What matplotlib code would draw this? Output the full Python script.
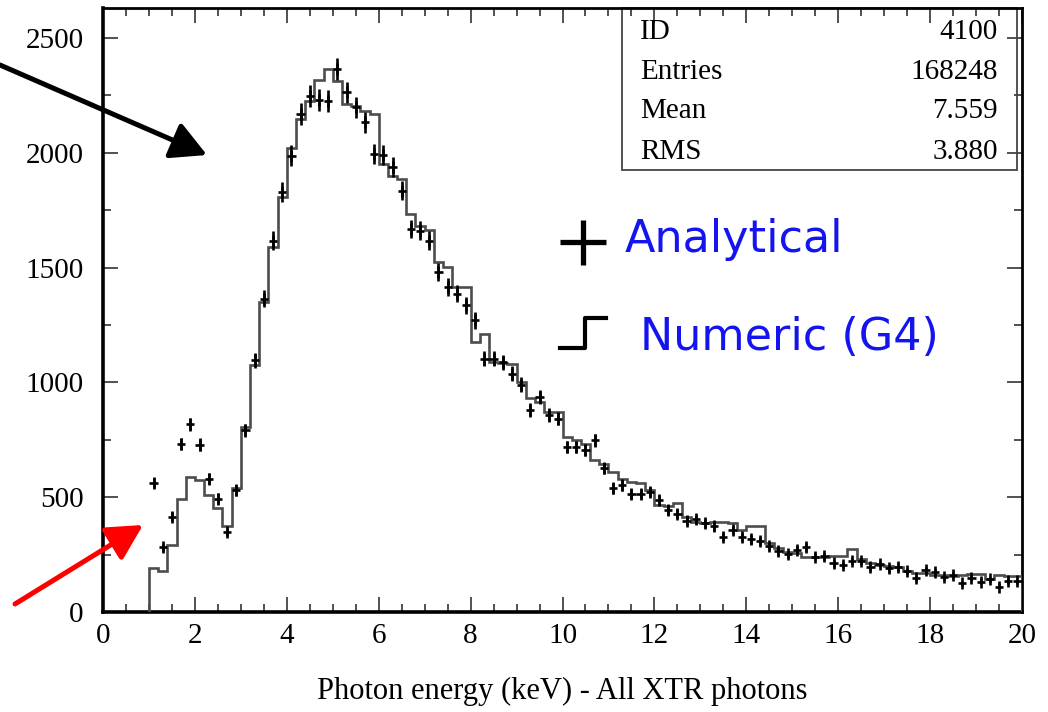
import numpy as np
import matplotlib
matplotlib.use('Agg')
import matplotlib.pyplot as plt
from matplotlib.ticker import MultipleLocator
from matplotlib.patches import Rectangle

# ---------------- data ----------------
bin_low = np.round(np.arange(1.0, 20.0, 0.2), 1)   # 0.2 keV bins from 1 to 20 keV
bin_width = 0.2

numeric_g4 = [
    190, 180, 294, 491, 588,
    574, 509, 454, 374, 542,
    806, 1074, 1349, 1588, 1806,
    2020, 2147, 2226, 2316, 2364,
    2310, 2212, 2204, 2183, 2168,
    1950, 1900, 1886, 1733, 1680,
    1665, 1523, 1504, 1417, 1417,
    1175, 1212, 1088, 1086, 1081,
    1000, 930, 915, 871, 871,
    760, 751, 733, 663, 645,
    610, 579, 567, 562, 530,
    465, 461, 473, 414, 393,
    386, 393, 393, 386, 357,
    375, 375, 299, 277, 262,
    255, 238, 238, 241, 243,
    243, 274, 233, 212, 204,
    200, 197, 180, 168, 168,
    161, 160, 157, 161, 164,
    164, 145, 163, 157, 157,
]

analytical = [
    562, 281, 415, 731, 818,
    729, 581, 494, 349, 530,
    791, 1096, 1364, 1617, 1828,
    1987, 2168, 2248, 2229, 2226,
    2364, 2262, 2197, 2132, 1994,
    1990, 1936, 1835, 1668, 1661,
    1617, 1480, 1415, 1386, 1335,
    1270, 1103, 1103, 1088, 1038,
    990, 880, 936, 857, 842,
    719, 719, 707, 748, 625,
    538, 552, 513, 513, 523,
    487, 443, 429, 397, 403,
    386, 374, 328, 357, 328,
    316, 309, 287, 265, 252,
    272, 284, 241, 243, 212,
    204, 222, 222, 194, 209,
    190, 194, 180, 149, 183,
    175, 151, 161, 125, 149,
    132, 142, 110, 135, 135,
]

stats_labels = ['ID', 'Entries', 'Mean', 'RMS']
stats_values = ['4100', '168248', '7.559', '3.880']

x_label = 'Photon energy (keV) - All XTR photons'
legend_labels = ['Analytical', 'Numeric (G4)']

# ---------------- figure ----------------
plt.rcParams['font.family'] = ['Liberation Serif', 'DejaVu Serif']
fig = plt.figure(figsize=(10.48, 7.12), dpi=100)
ax = fig.add_axes([0.0983, 0.1404, 0.8769, 0.8484])

edges = np.append(bin_low, bin_low[-1] + bin_width)
centers = bin_low + bin_width / 2
ana = np.array(analytical, dtype=float)

ax.stairs(numeric_g4, edges, baseline=0, color='#4d4d4d', lw=1.9, zorder=3)
ax.errorbar(centers, ana, xerr=0.09, yerr=np.sqrt(ana), fmt='none',
            ecolor='black', elinewidth=1.9, capsize=0, zorder=4)
ax.plot(centers, ana, ls='none', marker='|', markersize=8, mew=1.9,
        color='black', zorder=4)

ax.set_xlim(0, 20)
ax.set_ylim(0, 2630)
ax.xaxis.set_major_locator(MultipleLocator(2))
ax.xaxis.set_minor_locator(MultipleLocator(0.5))
ax.yaxis.set_major_locator(MultipleLocator(500))
ax.yaxis.set_minor_locator(MultipleLocator(250))
ax.tick_params(which='both', direction='in', top=True, right=True,
               width=1.2, color='#333333')
ax.tick_params(which='major', length=11)
ax.tick_params(which='minor', length=6)
ax.tick_params(axis='x', labelsize=21, pad=8)
ax.tick_params(axis='y', labelsize=21, pad=14)
for s in ax.spines.values():
    s.set_linewidth(2.0)
ax.spines['left'].set_linewidth(2.6)
ax.spines['bottom'].set_linewidth(2.6)

ax.set_xlabel(x_label, fontsize=22)
ax.xaxis.set_label_coords(0.5, -0.108)

# stats box
ax.add_patch(Rectangle((0.5647, 0.7318), 0.9946 - 0.5647, 0.2682,
                       transform=ax.transAxes, fill=False, lw=1.3,
                       edgecolor='#444444', zorder=2, clip_on=False))
row_y = [0.960, 0.894, 0.8295, 0.7616]
for lab, val, yy in zip(stats_labels, stats_values, row_y):
    ax.text(0.5843, yy, lab, transform=ax.transAxes, fontsize=21,
            ha='left', va='center')
    ax.text(0.9739, yy, val, transform=ax.transAxes, fontsize=21,
            ha='right', va='center')

# legend-like annotations
ax.plot([0.4973, 0.5473], [0.6126, 0.6126], transform=ax.transAxes,
        color='black', lw=3.8, clip_on=False, solid_capstyle='butt')
ax.plot([0.5223, 0.5223], [0.5745, 0.649], transform=ax.transAxes,
        color='black', lw=3.8, clip_on=False, solid_capstyle='butt')
ax.plot([0.4973, 0.5245, 0.5245, 0.5473], [0.4371, 0.4371, 0.4868, 0.4868],
        transform=ax.transAxes, color='black', lw=3.0, clip_on=False)
ax.text(0.568, 0.596, legend_labels[0], transform=ax.transAxes,
        fontsize=32, color='#1414f0', family='DejaVu Sans', va='baseline')
ax.text(0.5843, 0.4338, legend_labels[1], transform=ax.transAxes,
        fontsize=32, color='#1414f0', family='DejaVu Sans', va='baseline')

# arrows
ax.annotate('', xy=(207, 712 - 155), xytext=(0, 712 - 65),
            xycoords='figure pixels', textcoords='figure pixels',
            annotation_clip=False,
            arrowprops=dict(arrowstyle='-|>,head_length=0.6,head_width=0.32',
                            mutation_scale=36, lw=3.6, color='black',
                            shrinkA=0, shrinkB=0))
ax.annotate('', xy=(143, 712 - 525), xytext=(15, 712 - 604),
            xycoords='figure pixels', textcoords='figure pixels',
            annotation_clip=False,
            arrowprops=dict(arrowstyle='-|>,head_length=0.6,head_width=0.32',
                            mutation_scale=36, lw=3.6, color='#ff0000',
                            shrinkA=0, shrinkB=0))

fig.savefig('out.png', dpi=100)
